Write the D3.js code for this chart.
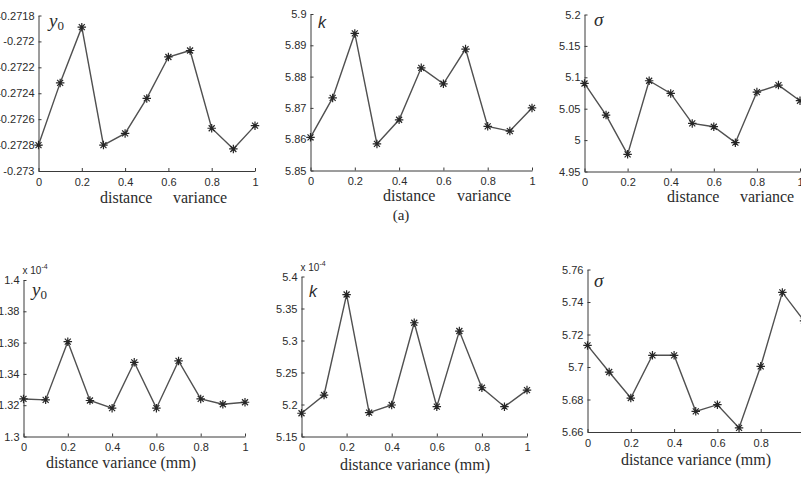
<!DOCTYPE html>
<html>
<head>
<meta charset="utf-8">
<script src="https://cdn.jsdelivr.net/npm/d3@7"></script>
<style>
  body { margin: 0; background: #fff; }
  svg { display: block; }
</style>
</head>
<body>
<svg id="chart"></svg>
<script>
// distance variance (mm), shared by every panel
var distVar = [0, 0.1, 0.2, 0.3, 0.4, 0.5, 0.6, 0.7, 0.8, 0.9, 1];
var xTicks = [0, 0.2, 0.4, 0.6, 0.8, 1];

// (a) row
var y0A    = [-0.2728, -0.27232, -0.27189, -0.2728, -0.27271, -0.27244, -0.27212, -0.27207, -0.27267, -0.27283, -0.27265];
var kA     = [5.8606, 5.8732, 5.8938, 5.8585, 5.8662, 5.8828, 5.8777, 5.8888, 5.8641, 5.8626, 5.8700];
var sigmaA = [5.0902, 5.0399, 4.9773, 5.0945, 5.0743, 5.0266, 5.0213, 4.9959, 5.0765, 5.0876, 5.0627];

// (b) row, y0 and k are in units of 1e-4
var y0B    = [1.3240, 1.3234, 1.3606, 1.3230, 1.3181, 1.3474, 1.3181, 1.3483, 1.3240, 1.3206, 1.3219];
var kB     = [5.1863, 5.2148, 5.3718, 5.1873, 5.1992, 5.3277, 5.1966, 5.3148, 5.2262, 5.1966, 5.2225];
var sigmaB = [5.7133, 5.6969, 5.6809, 5.7072, 5.7072, 5.6727, 5.6768, 5.6625, 5.7004, 5.7459, 5.7284];

// y tick labels
var y0ATicks    = [-0.273, -0.2728, -0.2726, -0.2724, -0.2722, -0.272, -0.2718];
var kATicks     = [5.85, 5.86, 5.87, 5.88, 5.89, 5.9];
var sigmaATicks = [4.95, 5, 5.05, 5.1, 5.15, 5.2];
var y0BTicks    = [1.3, 1.32, 1.34, 1.36, 1.38, 1.4];
var kBTicks     = [5.15, 5.2, 5.25, 5.3, 5.35, 5.4];
var sigmaBTicks = [5.66, 5.68, 5.7, 5.72, 5.74, 5.76];

var width = 801, height = 478;
var TextColor = '#2b2b2b', LineColor = '#505050', AxisColor = '#3a3a3a';
var serif = '"Liberation Serif", "Times New Roman", serif';
var sans  = '"Liberation Sans", Arial, sans-serif';

// layout of the six panels (pixel boxes of the axes)
var panels = [
  {vals: y0A,    ticks: y0ATicks,    x0: 38.5,  x1: 255,  yTop: 15.5,  yBot: 171,   name: 'y0', nx: 49,  ny: 27},
  {vals: kA,     ticks: kATicks,     x0: 310.5, x1: 532,  yTop: 14,    yBot: 170.5, name: 'k',  nx: 318, ny: 28},
  {vals: sigmaA, ticks: sigmaATicks, x0: 584.5, x1: 800,  yTop: 14.5,  yBot: 171.5, name: 's',  nx: 594, ny: 26},
  {vals: y0B,    ticks: y0BTicks,    x0: 23.5,  x1: 245,  yTop: 280,   yBot: 436.5, name: 'y0', nx: 32,  ny: 296, exp: true},
  {vals: kB,     ticks: kBTicks,     x0: 301.5, x1: 527,  yTop: 276.5, yBot: 436.5, name: 'k',  nx: 309, ny: 297, exp: true},
  {vals: sigmaB, ticks: sigmaBTicks, x0: 587.5, x1: 804,  yTop: 269.5, yBot: 432,   name: 's',  nx: 594, ny: 287}
];

// MATLAB style '*' marker: plus and cross
var star8 = {
  draw: function(ctx, size) {
    var r = Math.sqrt(size) / 2, d = r * Math.SQRT1_2;
    ctx.moveTo(-r, 0); ctx.lineTo(r, 0);
    ctx.moveTo(0, -r); ctx.lineTo(0, r);
    ctx.moveTo(-d, -d); ctx.lineTo(d, d);
    ctx.moveTo(-d, d); ctx.lineTo(d, -d);
  }
};

function fmt(d) { return String(+d.toFixed(5)); }

var svg = d3.select('#chart').attr('width', width).attr('height', height);
svg.append('rect').attr('width', width).attr('height', height).attr('fill', '#fff');

panels.forEach(function(p) {
  var x = d3.scaleLinear().domain([0, 1]).range([p.x0, p.x1]);
  var y = d3.scaleLinear().domain([p.ticks[0], p.ticks[p.ticks.length - 1]]).range([p.yBot, p.yTop]);

  var gx = svg.append('g')
    .attr('transform', 'translate(0,' + p.yBot + ')')
    .call(d3.axisBottom(x).tickValues(xTicks).tickFormat(fmt).tickSizeInner(-3).tickSizeOuter(0).tickPadding(7));
  var gy = svg.append('g')
    .attr('transform', 'translate(' + p.x0 + ',0)')
    .call(d3.axisLeft(y).tickValues(p.ticks).tickFormat(fmt).tickSizeInner(-3).tickSizeOuter(0).tickPadding(4));

  [gx, gy].forEach(function(g) {
    g.attr('font-family', sans).attr('font-size', 11);
    g.selectAll('path, line').attr('stroke', AxisColor).attr('stroke-width', 1);
    g.selectAll('text').attr('fill', TextColor);
  });

  var line = d3.line().x(function(d, i) { return x(distVar[i]); }).y(function(d) { return y(d); });
  svg.append('path')
    .datum(p.vals)
    .attr('d', line)
    .attr('fill', 'none')
    .attr('stroke', LineColor)
    .attr('stroke-width', 1.4);

  svg.append('g').selectAll('path')
    .data(p.vals)
    .enter().append('path')
    .attr('transform', function(d, i) { return 'translate(' + x(distVar[i]) + ',' + y(d) + ')'; })
    .attr('d', d3.symbol().type(star8).size(72))
    .attr('fill', 'none')
    .attr('stroke', '#262626')
    .attr('stroke-width', 1.2);

  // variable name inside the axes
  var t = svg.append('text')
    .attr('x', p.nx).attr('y', p.ny)
    .attr('font-family', serif)
    .attr('font-size', 19)
    .attr('fill', TextColor);
  if (p.name === 'y0') {
    t.append('tspan').attr('font-style', 'italic').text('y');
    t.append('tspan').attr('font-size', 13).attr('dy', 3).text('0');
  } else if (p.name === 'k') {
    t.attr('font-family', sans).attr('font-size', 16).attr('font-style', 'italic').text('k');
  } else {
    t.attr('font-style', 'italic').text('σ');
  }

  if (p.exp) {
    var e = svg.append('text')
      .attr('x', p.x0 - 1).attr('y', p.yTop - 6)
      .attr('font-family', sans).attr('font-size', 10).attr('fill', TextColor);
    e.append('tspan').text('x 10');
    e.append('tspan').attr('font-size', 7).attr('dy', -5).text('-4');
  }
});

// x axis titles
var topTitles = [
  {d: 100, v: 173, y: 203},
  {d: 383, v: 457, y: 201},
  {d: 667, v: 740, y: 202}
];
topTitles.forEach(function(t) {
  var tt = svg.append('text').attr('y', t.y)
    .attr('font-family', serif).attr('font-size', 16).attr('fill', TextColor);
  tt.append('tspan').attr('x', t.d).text('distance');
  tt.append('tspan').attr('x', t.v).text('variance');
});

svg.append('text').attr('x', 401).attr('y', 220).attr('text-anchor', 'middle')
  .attr('font-family', serif).attr('font-size', 15).attr('fill', TextColor).text('(a)');

var bottomTitles = [{x: 121, y: 468}, {x: 415, y: 470}, {x: 696, y: 465}];
bottomTitles.forEach(function(t) {
  svg.append('text').attr('x', t.x).attr('y', t.y).attr('text-anchor', 'middle')
    .attr('font-family', serif).attr('font-size', 16).attr('fill', TextColor)
    .text('distance variance (mm)');
});
</script>
</body>
</html>
